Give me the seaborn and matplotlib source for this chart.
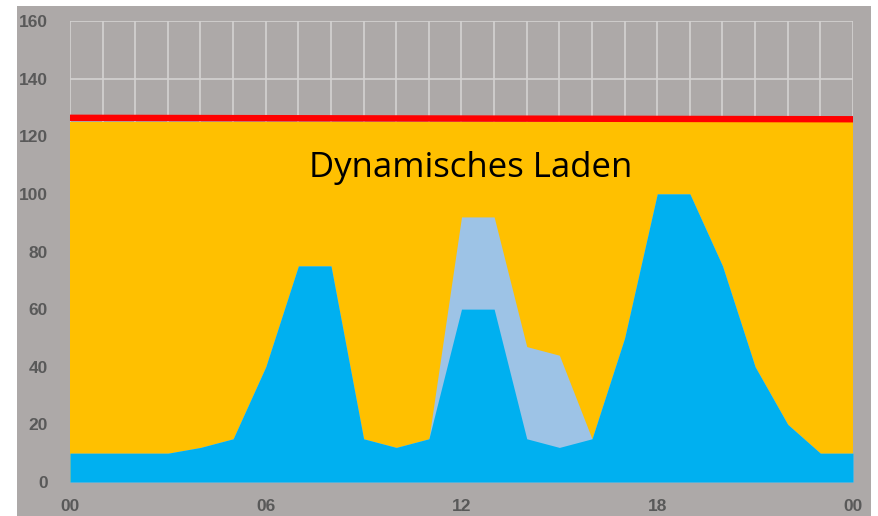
import matplotlib
matplotlib.use("Agg")
import matplotlib.pyplot as plt
from matplotlib.patches import Rectangle
import seaborn as sns
import pandas as pd

hours = list(range(25))
base_load = [10, 10, 10, 10, 12, 15, 40, 75, 75, 15, 12, 15, 60, 60, 15, 12, 15, 50, 100, 100, 75, 40, 20, 10, 10]
extra_total = [10, 10, 10, 10, 12, 15, 40, 75, 75, 15, 12, 15, 92, 92, 47, 44, 15, 50, 100, 100, 75, 40, 20, 10, 10]
dyn_level = [125] * 25
limit_hours = [0, 24]
limit = [126.4, 125.9]
xtick_pos = [0, 6, 12, 18, 24]
xtick_labels = ["00", "06", "12", "18", "00"]
ytick_vals = [0, 20, 40, 60, 80, 100, 120, 140, 160]
label_text = "Dynamisches Laden"

df = pd.DataFrame({"hour": hours, "base": base_load, "extra": extra_total,
                   "dyn": dyn_level})
df_lim = pd.DataFrame({"hour": limit_hours, "limit": limit})

sns.set_theme(style="white")
bg = "#ADA9A8"
W, H = 879, 516
fig = plt.figure(figsize=(W / 100, H / 100), dpi=100, facecolor="white")
fig.patches.append(Rectangle((17 / W, 0), (871 - 17) / W, (516 - 6) / H,
                             transform=fig.transFigure, facecolor=bg,
                             edgecolor="none", zorder=-10))
ax = fig.add_axes([70 / W, (H - 482) / H, (853 - 70) / W, (482 - 21) / H])
ax.set_facecolor(bg)

ax.set_xlim(0, 24)
ax.set_ylim(0, 160)
ax.set_yticks(ytick_vals)
ax.set_xticks(range(25))
ax.grid(True, color="#D4D2D1", linewidth=1.2, zorder=0)
ax.set_axisbelow(True)

ax.fill_between(df["hour"], 0, df["dyn"], color="#FFC000", linewidth=0, zorder=2)
ax.fill_between(df["hour"], 0, df["extra"], color="#9DC3E6", linewidth=0, zorder=3)
ax.fill_between(df["hour"], 0, df["base"], color="#00B0F0", linewidth=0, zorder=4)
sns.lineplot(data=df_lim, x="hour", y="limit", color="#FF0000", linewidth=4.6,
             ax=ax, zorder=5, clip_on=False, solid_capstyle="butt")

ax.set_xticklabels([xtick_labels[xtick_pos.index(h)] if h in xtick_pos else "" for h in range(25)])
ax.set_yticklabels([str(v) for v in ytick_vals])
for lab in ax.get_xticklabels() + ax.get_yticklabels():
    lab.set_fontfamily("Liberation Sans")
    lab.set_fontweight("bold")
    lab.set_fontsize(12.5)
    lab.set_color("#595959")
ax.tick_params(axis="x", length=0, pad=12)
ax.tick_params(axis="y", length=0, pad=16)
ax.set_xlabel("")
ax.set_ylabel("")
for s in ax.spines.values():
    s.set_visible(False)

ax.text(12.27, 109, label_text, ha="center", va="center", fontsize=25,
        family=["Open Sans", "DejaVu Sans"], color="black", zorder=6)

fig.savefig("out.png", dpi=100, facecolor="white")
